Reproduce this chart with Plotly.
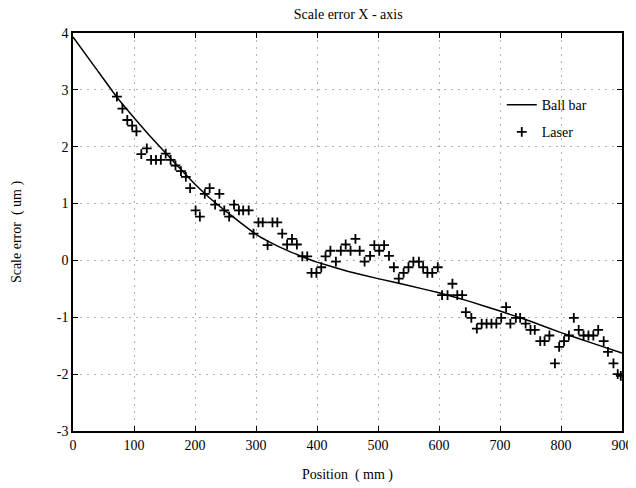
import plotly.graph_objects as go

# Ball bar curve (position mm, scale error um)
ballbar_x = [0, 36, 72, 100, 125, 150, 175, 200, 225, 250, 275, 300, 325, 350, 375, 400,
             450, 500, 550, 600, 650, 700, 750, 800, 850, 900]
ballbar_y = [3.93, 3.40, 2.87, 2.51, 2.20, 1.91, 1.62, 1.34, 1.09, 0.87, 0.66, 0.46, 0.31, 0.18, 0.07, -0.03,
             -0.19, -0.32, -0.44, -0.57, -0.72, -0.89, -1.07, -1.27, -1.45, -1.63]

# Laser measurements
laser_x = [72, 81, 89, 97, 104, 112, 121, 128, 136, 144, 152, 160, 168, 177, 185, 192, 201, 208, 216, 224,
           233, 240, 248, 256, 264, 272, 279, 288, 296, 304, 311, 319, 327, 335, 343, 351, 359, 367, 376, 384,
           391, 399, 407, 414, 422, 431, 439, 447, 455, 463, 470, 478, 487, 494, 502, 510, 518, 526, 534, 542,
           550, 558, 567, 574, 581, 589, 598, 605, 614, 622, 630, 638, 644, 653, 662, 670, 678, 686, 694, 702,
           710, 717, 726, 733, 742, 750, 757, 766, 773, 781, 790, 797, 805, 813, 821, 829, 837, 845, 853, 861,
           870, 877, 886, 893, 898]
laser_y = [2.88, 2.67, 2.47, 2.37, 2.27, 1.87, 1.97, 1.77, 1.77, 1.77, 1.88, 1.77, 1.67, 1.57, 1.47, 1.27, 0.88, 0.77, 1.17, 1.27,
           0.98, 1.17, 0.88, 0.77, 0.98, 0.88, 0.88, 0.88, 0.47, 0.67, 0.67, 0.27, 0.67, 0.67, 0.47, 0.28, 0.38, 0.28, 0.07, 0.07,
           -0.22, -0.22, -0.12, 0.07, 0.17, -0.02, 0.17, 0.28, 0.17, 0.38, 0.17, -0.02, 0.08, 0.27, 0.17, 0.27, 0.08, -0.12, -0.32, -0.22,
           -0.12, -0.02, -0.02, -0.12, -0.22, -0.22, -0.12, -0.61, -0.61, -0.41, -0.61, -0.61, -0.91, -1.01, -1.2, -1.11, -1.11, -1.11, -1.11, -1.01,
           -0.82, -1.11, -1.01, -1.01, -1.11, -1.22, -1.22, -1.42, -1.42, -1.32, -1.81, -1.52, -1.42, -1.32, -1.01, -1.22, -1.32, -1.32, -1.32, -1.22,
           -1.42, -1.61, -1.81, -2.0, -2.03]

x_ticks = [0, 100, 200, 300, 400, 500, 600, 700, 800, 900]
x_ticktext = ["0", "100", "200", "300", "400", "500", "600", "700", "800", "900"]
y_ticks = [-3, -2, -1, 0, 1, 2, 3, 4]
y_ticktext = ["-3", "-2", "-1", "0", "1", "2", "3", "4"]

title_text = "Scale error X - axis"
x_title = "Position  ( mm )"
y_title = "Scale error  ( um )"

FONT = "Liberation Serif"

fig = go.Figure()
fig.add_trace(go.Scatter(x=ballbar_x, y=ballbar_y, mode="lines", name="Ball bar", legendgroup="a",
                         line=dict(color="black", width=1.5, shape="spline", smoothing=0.3)))
fig.add_trace(go.Scatter(x=laser_x, y=laser_y, mode="markers", name="Laser", legendgroup="b",
                         marker=dict(symbol="cross-thin", size=7, color="black",
                                     line=dict(color="black", width=1.8))))

axis_common = dict(showline=True, linecolor="black", linewidth=1.5, mirror="ticks",
                   ticks="inside", ticklen=5, tickcolor="black", tickwidth=1,
                   showgrid=True, gridcolor="#b0b0b0", griddash="2px,5px", gridwidth=1,
                   zeroline=False, automargin=False,
                   tickfont=dict(family=FONT, size=14, color="black"))

fig.update_xaxes(range=[0, 900], tickvals=x_ticks, ticktext=x_ticktext,
                 title=dict(text=x_title, font=dict(family=FONT, size=14, color="black"), standoff=18),
                 **axis_common)
fig.update_yaxes(range=[-3, 4], tickvals=y_ticks, ticktext=y_ticktext,
                 title=dict(text=y_title, font=dict(family=FONT, size=14, color="black"), standoff=32),
                 **axis_common)

fig.update_layout(
    width=636, height=488,
    margin=dict(l=65, r=22, t=25, b=65, autoexpand=False),
    paper_bgcolor="white", plot_bgcolor="white",
    title=dict(text=title_text, x=0.535, xanchor="center", y=0.988, yanchor="middle",
               font=dict(family=FONT, size=14, color="black")),
    legend=dict(x=0.781, y=0.859, xanchor="left", yanchor="top", bgcolor="rgba(0,0,0,0)",
                font=dict(family=FONT, size=14, color="black"), itemwidth=30, tracegroupgap=6),
    showlegend=True,
)

fig.write_html("out.html")
